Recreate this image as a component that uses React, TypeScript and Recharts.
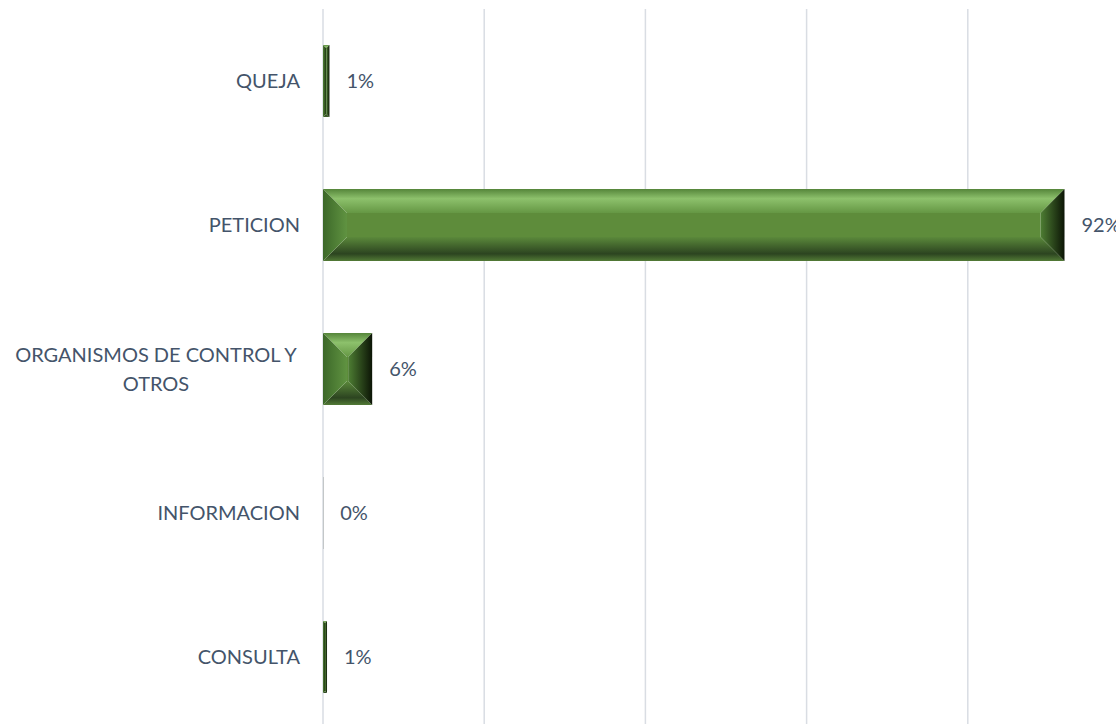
import { Bar, BarChart, CartesianGrid, LabelList, XAxis, YAxis } from "recharts";

const categories = ["QUEJA", "PETICION", "ORGANISMOS DE CONTROL Y OTROS", "INFORMACION", "CONSULTA"];
const percentages = [0.8, 92.0, 6.1, 0.02, 0.5];
const gridTicks = [0, 20, 40, 60, 80];

const data = categories.map((name, i) => ({ name, value: percentages[i] }));

const labelColor = "#44546a";
const fontFamily = "Lato, 'Open Sans', sans-serif";

// splits long category names in two lines like excel does
function splitLabel(text: string): string[] {
    if (text.length < 24) return [text];
    const words = text.split(" ");
    const first: string[] = [];
    let i = 0;
    while (i < words.length && (first.join(" ") + " " + words[i]).trim().length <= 23) {
        first.push(words[i]);
        i++;
    }
    return [first.join(" "), words.slice(i).join(" ")];
}

function CategoryTick(props: any) {
    const { x, y, payload } = props;
    const lines = splitLabel(String(payload.value));
    if (lines.length === 1) {
        return (
            <text x={x + 1} y={y} dy={7} textAnchor="end" fill={labelColor} fontSize={20} fontFamily={fontFamily}>
                {lines[0]}
            </text>
        );
    }
    return (
        <text x={x - 143} y={y} textAnchor="middle" fill={labelColor} fontSize={20} fontFamily={fontFamily}>
            {lines.map((line, i) => (
                <tspan key={i} x={x - 143} dy={i === 0 ? -7 : 29}>
                    {line}
                </tspan>
            ))}
        </text>
    );
}

function BevelBar(props: any) {
    const { x, y, width, height } = props;
    if (!width || width <= 0) return null;
    const d = Math.min(24, width / 2, height / 2);
    const r = x + width;
    const b = y + height;
    const narrow = width < 16;
    return (
        <g>
            <rect x={x + d} y={y + d} width={Math.max(0, width - 2 * d)} height={Math.max(0, height - 2 * d)} fill="#5e8c3b" />
            <polygon points={`${x},${y} ${r},${y} ${r - d},${y + d} ${x + d},${y + d}`} fill="url(#bevelTop)" />
            <polygon points={`${x},${b} ${r},${b} ${r - d},${b - d} ${x + d},${b - d}`} fill="url(#bevelBottom)" />
            <polygon points={`${x},${y} ${x + d},${y + d} ${x + d},${b - d} ${x},${b}`} fill={narrow ? "url(#bevelLeftNarrow)" : "url(#bevelLeft)"} />
            <polygon points={`${r},${y} ${r - d},${y + d} ${r - d},${b - d} ${r},${b}`} fill="url(#bevelRight)" />
        </g>
    );
}

export default function App() {
    return (
        <div style={{ position: "absolute", left: 0, top: 0, width: 1116, height: 724, overflow: "hidden", background: "#ffffff" }}>
            <BarChart
                width={1129}
                height={729}
                data={data}
                layout="vertical"
                barCategoryGap="25%"
                margin={{ top: 9, right: 0, bottom: 0, left: 0 }}
            >
                <defs>
                    <linearGradient id="bevelTop" x1="0" y1="0" x2="0" y2="1">
                        <stop offset="0" stopColor="#55853a" />
                        <stop offset="0.4" stopColor="#8dc16c" />
                        <stop offset="1" stopColor="#659744" />
                    </linearGradient>
                    <linearGradient id="bevelBottom" x1="0" y1="0" x2="0" y2="1">
                        <stop offset="0" stopColor="#5b893b" />
                        <stop offset="0.7" stopColor="#2c4420" />
                        <stop offset="1" stopColor="#527a36" />
                    </linearGradient>
                    <linearGradient id="bevelLeft" x1="0" y1="0" x2="1" y2="0">
                        <stop offset="0" stopColor="#3c6829" />
                        <stop offset="1" stopColor="#609341" />
                    </linearGradient>
                    <linearGradient id="bevelLeftNarrow" x1="0" y1="0" x2="1" y2="0">
                        <stop offset="0" stopColor="#4f7f35" />
                        <stop offset="1" stopColor="#1f3512" />
                    </linearGradient>
                    <linearGradient id="bevelRight" x1="0" y1="0" x2="1" y2="0">
                        <stop offset="0" stopColor="#4e7e33" />
                        <stop offset="1" stopColor="#0c1506" />
                    </linearGradient>
                </defs>
                <CartesianGrid horizontal={false} stroke="#d9dde3" strokeWidth={1.5} />
                <XAxis type="number" domain={[0, 100]} ticks={gridTicks} hide />
                <YAxis
                    type="category"
                    dataKey="name"
                    width={323}
                    axisLine={false}
                    tickLine={false}
                    tickSize={0}
                    tickMargin={24}
                    tick={<CategoryTick />}
                    interval={0}
                />
                <Bar dataKey="value" shape={<BevelBar />} isAnimationActive={false}>
                    <LabelList
                        dataKey="value"
                        position="right"
                        offset={17}
                        formatter={(v: any) => `${Math.round(Number(v))}%`}
                        fill={labelColor}
                        fontSize={20}
                        fontFamily={fontFamily}
                    />
                </Bar>
            </BarChart>
        </div>
    );
}
